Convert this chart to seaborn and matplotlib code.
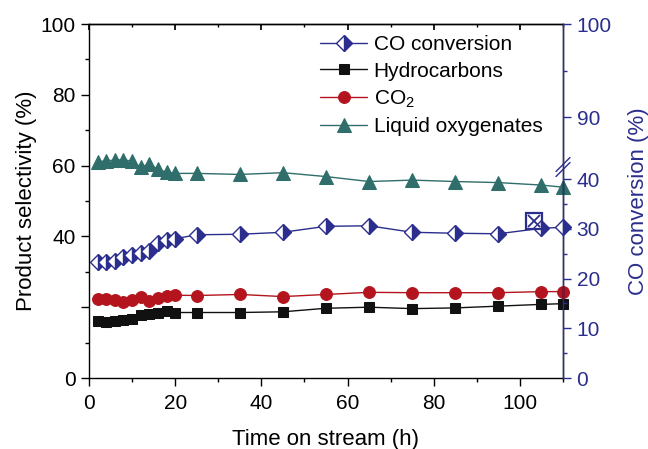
import numpy as np
import matplotlib
matplotlib.use("Agg")
import matplotlib.pyplot as plt
import seaborn as sns
from matplotlib.ticker import FixedLocator, FixedFormatter, MultipleLocator

# ---------------- data ----------------
time_h = [2, 4, 6, 8, 10, 12, 14, 16, 18, 20, 25, 35, 45, 55, 65, 75, 85, 95, 105, 110]
co_conversion = [23.3, 23.4, 23.5, 24.3, 24.8, 25.1, 25.5, 27.1, 27.7, 28.0, 28.8, 28.9, 29.3,
                 30.5, 30.6, 29.3, 29.1, 29.0, 30.1, 30.3]
hydrocarbons = [16.2, 15.9, 16.2, 16.4, 16.7, 17.8, 18.0, 18.5, 18.8, 18.5, 18.5, 18.5, 18.7,
                19.7, 20.0, 19.6, 19.8, 20.3, 20.8, 21.0]
co2 = [22.2, 22.4, 21.9, 21.6, 22.0, 23.0, 21.8, 22.7, 23.2, 23.4, 23.3, 23.6, 23.0,
       23.6, 24.2, 24.1, 24.1, 24.1, 24.4, 24.4]
liquid_oxygenates = [61.0, 61.4, 61.5, 61.7, 61.2, 59.5, 60.5, 58.9, 58.2, 57.8, 57.8, 57.5, 58.0,
                     56.9, 55.5, 55.9, 55.5, 55.2, 54.5, 53.9]
special_t = [103.3]
special_co = [31.5]

left_ticks = [0, 20, 40, 60, 80, 100]
left_ticklabels = ["0", "", "40", "60", "80", "100"]
right_ticks = [0, 10, 20, 30, 40, 90, 100]
right_minor = [5, 15, 25, 35, 95]
x_ticks = [0, 20, 40, 60, 80, 100]

NAVY = "#2B2E8C"
TEAL = "#2F6E6A"
RED = "#B3141D"
BLACK = "#111111"

sns.set_theme(style="ticks", rc={"axes.edgecolor": "black", "xtick.color": "black",
                                 "ytick.color": "black", "axes.linewidth": 1.0,
                                 "text.color": "black", "axes.labelcolor": "black"})
plt.rcParams["font.family"] = ["Liberation Sans", "DejaVu Sans"]
plt.rcParams["mathtext.default"] = "regular"

fig = plt.figure(figsize=(6.48, 4.49), dpi=100)
ax = fig.add_axes([89 / 648, 1 - 378 / 449, 474 / 648, 354 / 449])
ax2 = ax.twinx()

# broken right axis via a piecewise-linear function scale
_src = [-100, 0, 40, 90, 100, 200]
_dst = [-140.5, 0, 56.2, 73.7, 100, 363.0]
fwd = lambda r: np.interp(r, _src, _dst)
inv = lambda v: np.interp(v, _dst, _src)
ax2.set_yscale("function", functions=(fwd, inv))

# ---------------- series ----------------
sns.lineplot(x=time_h, y=hydrocarbons, ax=ax, color=BLACK, marker="s", markersize=7.5,
             markeredgecolor=BLACK, linewidth=1.0, clip_on=False, label="Hydrocarbons", legend=False)
sns.lineplot(x=time_h, y=co2, ax=ax, color=RED, marker="o", markersize=8.5,
             markeredgecolor=RED, linewidth=1.0, clip_on=False, label="CO$_2$", legend=False)
sns.lineplot(x=time_h, y=liquid_oxygenates, ax=ax, color=TEAL, marker="^", markersize=9.5,
             markeredgecolor=TEAL, linewidth=1.0, clip_on=False, label="Liquid oxygenates", legend=False)
sns.lineplot(x=time_h, y=co_conversion, ax=ax2, color=NAVY, marker="D", markersize=8,
             fillstyle="right", markerfacecolor=NAVY, markerfacecoloralt="white",
             markeredgecolor=NAVY, markeredgewidth=1.0, linewidth=1.0, clip_on=False,
             label="CO conversion", legend=False)
ax2.plot(special_t, special_co, marker="s", markersize=11, fillstyle="none", color=NAVY,
         markeredgewidth=1.6, linestyle="none")
ax2.plot(special_t, special_co, marker="x", markersize=8, color=NAVY,
         markeredgewidth=1.3, linestyle="none")

# ---------------- axes ----------------
ax.set_xlim(0, 110)
ax.set_ylim(0, 100)
ax2.set_ylim(0, 100)

ax.xaxis.set_major_locator(FixedLocator(x_ticks))
ax.xaxis.set_minor_locator(MultipleLocator(10))
ax.yaxis.set_major_locator(FixedLocator(left_ticks))
ax.yaxis.set_major_formatter(FixedFormatter(left_ticklabels))
ax.yaxis.set_minor_locator(MultipleLocator(10))
ax.tick_params(axis="both", which="major", direction="out", length=5.8, width=1, labelsize=15, pad=4)
ax.tick_params(axis="both", which="minor", direction="out", length=3, width=1)
ax.tick_params(axis="x", which="major", pad=6)
ax.tick_params(axis="y", right=False, which="both")

ax2.yaxis.set_major_locator(FixedLocator(right_ticks))
ax2.yaxis.set_major_formatter(FixedFormatter([str(v) for v in right_ticks]))
ax2.yaxis.set_minor_locator(FixedLocator(right_minor))
ax2.tick_params(axis="y", which="major", direction="out", length=5.8, width=1, color=NAVY,
                labelcolor=NAVY, labelsize=15, pad=4)
ax2.tick_params(axis="y", which="minor", direction="out", length=3, width=1, color=NAVY)
ax2.spines["right"].set_color(NAVY)
for s in ["left", "top", "bottom"]:
    ax2.spines[s].set_visible(False)

top = ax.secondary_xaxis("top")
top.xaxis.set_major_locator(FixedLocator(x_ticks))
top.xaxis.set_minor_locator(MultipleLocator(10))
top.tick_params(which="major", direction="in", length=4, labeltop=False)
top.tick_params(which="minor", direction="in", length=2.5)

ax.set_xlabel("Time on stream (h)", fontsize=16, labelpad=11)
ax.set_ylabel("Product selectivity (%)", fontsize=16, labelpad=2)
ax2.set_ylabel("CO conversion (%)", fontsize=16, color=NAVY, labelpad=12)

# break marks on the right axis
yb = 0.596
for off in (-2.5 / 354, 2.5 / 354):
    ax.plot([1 - 7 / 474, 1 + 7 / 474], [yb - 7 / 354 + off, yb + 7 / 354 + off],
            transform=ax.transAxes, color=NAVY, linewidth=1.0, clip_on=False, zorder=5)

# legend
handles = [ax2.lines[0], ax.lines[0], ax.lines[1], ax.lines[2]]
labels = ["CO conversion", "Hydrocarbons", "CO$_2$", "Liquid oxygenates"]
ax.legend(handles, labels, loc="upper left", bbox_to_anchor=(0.475, 0.987), frameon=False,
          fontsize=15, handlelength=2.25, handletextpad=0.3, labelspacing=0.37, borderpad=0.3,
          borderaxespad=0)

fig.savefig("out.png", dpi=100)
